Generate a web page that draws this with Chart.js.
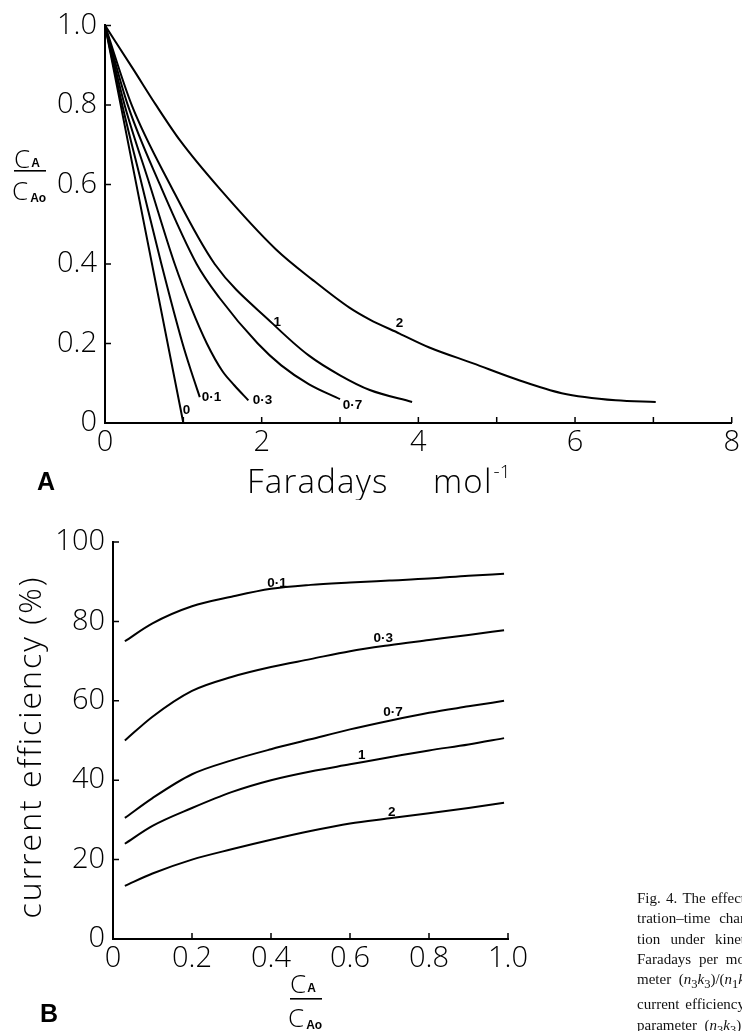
<!DOCTYPE html>
<html>
<head>
<meta charset="utf-8">
<title>Fig. 4</title>
<script src="https://cdn.jsdelivr.net/npm/chart.js@4.4.1/dist/chart.umd.min.js"></script>
<style>
  body { margin: 0; background: #fff; }
  #page { position: relative; width: 742px; height: 1031px; overflow: hidden; }
  .box { position: absolute; left: 0; width: 742px; }
  #boxA { top: 0; height: 500px; }
  #boxB { top: 500px; height: 531px; }
  #caption {
    position: absolute; left: 637px; top: 888px; width: 108px;
    white-space: nowrap;
    font-family: "Liberation Serif", serif; font-size: 15px; line-height: 20.3px; color: #111;
  }
  #caption div { text-align: justify; text-align-last: justify; }
</style>
</head>
<body>
<div id="page">
  <div class="box" id="boxA"><canvas id="chartA"></canvas></div>
  <div class="box" id="boxB"><canvas id="chartB"></canvas></div>
  <div id="caption">
    <div>Fig. 4. The effect</div>
    <div>tration&ndash;time char</div>
    <div>tion under kinet</div>
    <div>Faradays per mo</div>
    <div>meter (<i>n</i><sub>3</sub><i>k</i><sub>3</sub>)/(<i>n</i><sub>1</sub><i>k</i></div>
    <div>current efficiency</div>
    <div>parameter (<i>n</i><sub>3</sub><i>k</i><sub>3</sub>).</div>
  </div>
</div>
<script>
// ---- panel A: C_A/C_A0 vs Faradays mol-1, one curve per parameter value
const faradays0 = [0, 1.0];
const conc0 = [1, 0];
const faradays01 = [0, 0.22, 0.47, 0.72, 0.99, 1.1, 1.21];
const conc01 = [1, 0.8, 0.6, 0.4, 0.2, 0.13, 0.065];
const faradays03 = [0, 0.25, 0.57, 0.89, 1.1, 1.3, 1.5, 1.65, 1.83];
const conc03 = [1, 0.8, 0.6, 0.4, 0.29, 0.2, 0.13, 0.095, 0.057];
const faradays07 = [0, 0.29, 0.7, 1.17, 1.46, 1.95, 2.25, 2.6, 3.0];
const conc07 = [1, 0.8, 0.6, 0.4, 0.315, 0.2, 0.145, 0.098, 0.06];
const faradays1 = [0, 0.34, 0.83, 1.4, 2.14, 2.6, 3.0, 3.38, 3.92];
const conc1 = [1, 0.8, 0.6, 0.4, 0.25, 0.17, 0.12, 0.083, 0.053];
const faradays2 = [0, 0.36, 0.65, 0.96, 1.46, 2.18, 2.65, 3.12, 3.38, 3.76, 4.14, 4.7, 5.25, 5.83, 6.52, 7.03];
const conc2 = [1, 0.89, 0.8, 0.71, 0.59, 0.437, 0.36, 0.29, 0.26, 0.225, 0.19, 0.15, 0.11, 0.075, 0.057, 0.053];

const labelsA = ['0', '0·1', '0·3', '0·7', '1', '2'];
const labelXA = [1.04, 1.36, 2.01, 3.16, 2.2, 3.76];
const labelYA = [0.033, 0.064, 0.058, 0.045, 0.253, 0.25];

// ---- panel B: current efficiency (%) vs C_A/C_A0
const ratioB = [0.03, 0.1, 0.2, 0.3, 0.4, 0.5, 0.6, 0.7, 0.8, 0.9, 0.99];
const eff01 = [75, 79.5, 83.8, 86.2, 88.2, 89.2, 89.8, 90.3, 90.8, 91.5, 92];
const eff03 = [50, 56, 62.5, 66, 68.5, 70.5, 72.5, 74, 75.3, 76.6, 77.8];
const eff07 = [30.5, 35.5, 41.5, 45, 47.8, 50.3, 52.8, 55, 57, 58.6, 60];
const eff1 = [24, 28.5, 33, 37, 40, 42.2, 44, 45.8, 47.5, 49, 50.6];
const eff2 = [13.4, 16.5, 20, 22.6, 25, 27.2, 29.1, 30.4, 31.7, 33, 34.3];

const labelsB = ['0·1', '0·3', '0·7', '1', '2'];
const labelXB = [0.415, 0.684, 0.709, 0.63, 0.706];
const labelYB = [89.7, 75.8, 57.2, 46.3, 32];

const tickFont = { family: 'Open Sans', size: 29, weight: '300' };

function pts(xs, ys) {
    return xs.map((x, i) => ({ x: x, y: ys[i] }));
}

function curve(xs, ys) {
    return {
        data: pts(xs, ys),
        borderColor: '#000',
        borderWidth: 2,
        pointRadius: 0,
        fill: false,
        cubicInterpolationMode: 'monotone',
        clip: 6
    };
}

// C_A over C_A0, drawn as a stacked fraction
function drawRatio(ctx, left, numBase, barY, denBase) {
    ctx.save();
    ctx.fillStyle = '#000';
    ctx.textAlign = 'left';
    ctx.textBaseline = 'alphabetic';
    ctx.font = '300 26px "Open Sans"';
    ctx.fillText('C', left + 2, numBase);
    ctx.fillText('C', left, denBase);
    const cw = ctx.measureText('C').width;
    ctx.font = 'bold 12px "Liberation Sans"';
    ctx.fillText('A', left + cw + 3, numBase - 1);
    ctx.fillText('Ao', left + cw + 2, denBase + 2);
    ctx.fillRect(left + 2, barY, 32, 1.6);
    ctx.restore();
}

function annotate(labels, lx, ly, extra) {
    return {
        id: 'annotate',
        afterDraw(chart) {
            const ctx = chart.ctx;
            const xs = chart.scales.x, ys = chart.scales.y;
            const area = chart.chartArea;
            ctx.save();
            // tick marks pointing into the plot
            ctx.strokeStyle = '#000';
            ctx.lineWidth = 1.5;
            ctx.beginPath();
            xs.ticks.forEach(t => {
                if (t.value === xs.min) return;
                const p = xs.getPixelForValue(t.value);
                ctx.moveTo(p, area.bottom);
                ctx.lineTo(p, area.bottom - 6);
            });
            ys.ticks.forEach(t => {
                if (t.value === ys.min) return;
                const p = ys.getPixelForValue(t.value);
                ctx.moveTo(area.left, p);
                ctx.lineTo(area.left + 6, p);
            });
            ctx.stroke();
            // curve labels
            ctx.fillStyle = '#000';
            ctx.font = 'bold 13.5px "Liberation Sans"';
            ctx.textAlign = 'center';
            ctx.textBaseline = 'middle';
            labels.forEach((s, i) => {
                ctx.fillText(s, xs.getPixelForValue(lx[i]), ys.getPixelForValue(ly[i]));
            });
            ctx.restore();
            extra(ctx);
        }
    };
}

function baseOptions(xOpt, yOpt, pad) {
    return {
        animation: false,
        responsive: true,
        maintainAspectRatio: false,
        events: [],
        layout: { padding: pad },
        plugins: { legend: { display: false }, tooltip: { enabled: false } },
        scales: {
            x: Object.assign({
                type: 'linear',
                grid: { display: false, drawTicks: false },
                border: { color: '#000', width: 2 }
            }, xOpt),
            y: Object.assign({
                type: 'linear',
                grid: { display: false, drawTicks: false },
                border: { color: '#000', width: 2 }
            }, yOpt)
        }
    };
}

const chartA = new Chart(document.getElementById('chartA'), {
    type: 'line',
    data: {
        datasets: [
            curve(faradays0, conc0),
            curve(faradays01, conc01),
            curve(faradays03, conc03),
            curve(faradays07, conc07),
            curve(faradays1, conc1),
            curve(faradays2, conc2)
        ]
    },
    options: baseOptions({
        min: 0, max: 8,
        afterFit: s => { s.height = 77; },
        ticks: {
            stepSize: 1, autoSkip: false, maxRotation: 0, padding: 2,
            color: '#000', font: tickFont,
            callback: v => (v % 2 === 0 ? String(v) : '')
        }
    }, {
        min: 0, max: 1,
        afterFit: s => { s.width = 105; },
        ticks: {
            stepSize: 0.2, padding: 8, color: '#000', font: tickFont,
            callback: v => (v === 0 ? '0' : v.toFixed(1))
        }
    }, { top: 23, right: 9, left: 0, bottom: 0 }),
    plugins: [annotate(labelsA, labelXA, labelYA, ctx => {
        drawRatio(ctx, 12, 168, 170, 200);
        ctx.save();
        ctx.fillStyle = '#000';
        ctx.textBaseline = 'alphabetic';
        ctx.font = 'bold 25px "Liberation Sans"';
        ctx.fillText('A', 37, 490);
        ctx.font = '300 33px "Open Sans"';
        ctx.letterSpacing = '1.2px';
        ctx.fillText('Faradays', 247, 493);
        ctx.fillText('mol', 433, 493);
        const w = ctx.measureText('mol').width;
        ctx.font = '300 19px "Open Sans"';
        ctx.letterSpacing = '0px';
        ctx.fillText('-1', 434 + w, 478);
        ctx.restore();
    })]
});

const chartB = new Chart(document.getElementById('chartB'), {
    type: 'line',
    data: {
        datasets: [
            curve(ratioB, eff01),
            curve(ratioB, eff03),
            curve(ratioB, eff07),
            curve(ratioB, eff1),
            curve(ratioB, eff2)
        ]
    },
    options: baseOptions({
        min: 0, max: 1,
        afterFit: s => { s.height = 92; },
        ticks: {
            stepSize: 0.2, autoSkip: false, maxRotation: 0, padding: 2,
            color: '#000', font: tickFont,
            callback: v => (v === 0 ? '0' : v.toFixed(1))
        }
    }, {
        min: 0, max: 100,
        afterFit: s => { s.width = 113; },
        ticks: { stepSize: 20, padding: 8, color: '#000', font: tickFont }
    }, { top: 42, right: 234, left: 0, bottom: 0 }),
    plugins: [annotate(labelsB, labelXB, labelYB, ctx => {
        drawRatio(ctx, 288, 493, 498, 527);
        ctx.save();
        ctx.fillStyle = '#000';
        ctx.textBaseline = 'alphabetic';
        ctx.font = 'bold 25px "Liberation Sans"';
        ctx.fillText('B', 40, 522);
        // y-axis title, rotated
        ctx.translate(41, 247);
        ctx.rotate(-Math.PI / 2);
        ctx.textAlign = 'center';
        ctx.font = '300 32px "Open Sans"';
        ctx.letterSpacing = '2px';
        ctx.fillText('current efficiency (%)', 0, 0);
        ctx.restore();
    })]
});
</script>
</body>
</html>
